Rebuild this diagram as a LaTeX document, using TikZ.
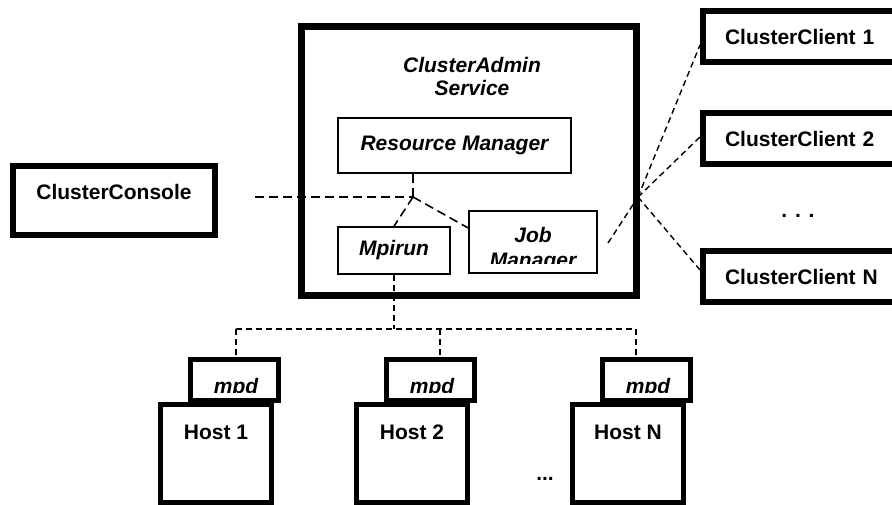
\documentclass[tikz,border=0pt]{standalone}
\usepackage{fontspec}
\setmainfont{Liberation Sans}
\usetikzlibrary{positioning}

\begin{document}
\begin{tikzpicture}
[x=1pt,y=-1pt]
\tikzset{heavy/.style={draw,line width=6pt,inner sep=0pt,font=\bfseries\fontsize{21}{24}\selectfont},
	hostbox/.style={heavy,line width=5pt,minimum width=111pt,minimum height=98pt,text depth=41pt},
	daemon/.style={heavy,line width=5pt,minimum width=88pt,minimum height=41pt},
	client/.style={heavy,inner xsep=22pt,text width=170pt,align=left,minimum height=51pt},
	part/.style={draw,line width=1.5pt,inner sep=0pt,font=\bfseries\itshape\fontsize{21}{25}\selectfont},
	partlabel/.style={inner sep=0pt,font=\bfseries\itshape\fontsize{21}{25}\selectfont},
	link/.style={line width=1.6pt,dash pattern=on 9pt off 5pt},
	wire/.style={line width=1.4pt,dash pattern=on 6pt off 4pt}}
\clip (0,0) rectangle (892,505);

% admin service and its parts
\node [heavy,line width=7pt,minimum width=335pt,minimum height=269pt] (admin) at (469,161) {};
\node [partlabel,align=center,font=\bfseries\itshape\fontsize{21}{23}\selectfont] (title) at (472,76.5) {ClusterAdmin\\Service};
\node [part,minimum width=233pt,minimum height=55pt] (rm) at (454.5,145.5) {Resource Manager};
\node [part,minimum width=112pt,minimum height=47pt] (mpirun) at (394,250.5) {Mpirun};
\node [part,minimum width=128pt,minimum height=62pt] (jm) at (533,242) {};
\begin{scope}
	\clip (jm.north west) rectangle ([yshift=9.75pt]jm.south east);
	\node [partlabel,align=center] (jmtext) at (533,250) {Job\\Manager};
\end{scope}

% console and clients
\node [heavy,minimum width=202pt,minimum height=69pt,text depth=17pt] (console) at (114,200.5) {ClusterConsole};
\node [client] (cc1) at (810,36.5) {ClusterClient 1};
\node [client] (cc2) at (810,138.5) {ClusterClient 2};
\node [client] (ccN) at (810,276.5) {ClusterClient N};
\node [heavy,draw=none,anchor=base] (ccdots) at (798,218) {. . .};

% hosts
\coordinate (bus) at (395,329);
\foreach \n/\x/\dx in {1/216/2,2/412/10,N/628/-10} {
	\node [hostbox] (host\n) at (\x,453) {Host \n};
	\node [daemon] (mpd\n) at ([shift={(18,-73.5)}]host\n.center) {};
	\begin{scope}
		\clip (mpd\n.north west) rectangle ([yshift=10pt]mpd\n.south east);
		\node [partlabel,anchor=base] (mpdtext\n) at ([shift={(2,13.5)}]mpd\n.center) {mpd};
	\end{scope}
	\coordinate (top\n) at ([xshift=\dx pt]mpd\n.north);
	\draw [wire] (top\n |- bus) -- (top\n);
}
\node [heavy,draw=none,anchor=base] (hostdots) at (545,480) {...};

% connections
\coordinate (hub) at (413,197);
\coordinate (consoleend) at (255,197);
\coordinate (fan) at (638,197);
\coordinate (jmtail) at (608,243);
\draw [link] (rm.south -| hub) -- (hub);
\draw [link] (consoleend) -- (hub);
\draw [link] (hub) -- (mpirun.north);
\draw [link] (hub) -- ([yshift=14pt]jm.west);
\draw [wire] (mpirun.south) -- (mpirun.south |- bus);
\draw [wire] (top1 |- bus) -- (topN |- bus);
\draw [wire] (jmtail) -- (fan);
\draw [wire] (fan) -- ([yshift=-8.5pt]cc1.west);
\draw [wire] (fan) -- ([yshift=1.5pt]cc2.west);
\draw [wire] (fan) -- ([yshift=6.5pt]ccN.west);

\end{tikzpicture}
\end{document}
